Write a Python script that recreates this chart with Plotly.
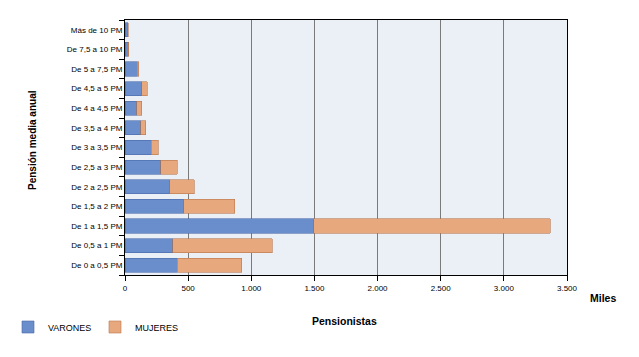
import plotly.graph_objects as go

categorias = ["De 0 a 0,5 PM", "De 0,5 a 1 PM", "De 1 a 1,5 PM", "De 1,5 a 2 PM",
              "De 2 a 2,5 PM", "De 2,5 a 3 PM", "De 3 a 3,5 PM", "De 3,5 a 4 PM",
              "De 4 a 4,5 PM", "De 4,5 a 5 PM", "De 5 a 7,5 PM", "De 7,5 a 10 PM",
              "Más de 10 PM"]
varones = [412, 380, 1495, 464, 356, 285, 206, 124, 92, 132, 95, 25, 22]
mujeres = [514, 784, 1873, 404, 193, 127, 58, 40, 40, 45, 15, 4, 4]
x_ticks = [0, 500, 1000, 1500, 2000, 2500, 3000, 3500]

FONT = "Liberation Sans, Arial, sans-serif"

# page body has an 8px margin; positions below are reference pixels minus that offset
OFF = 8
W, H = 639 - OFF, 357 - OFF
L, R, T, B = 125 - OFF, 567 - OFF, 20 - OFF, 275 - OFF

def px_x(p):
    return (p - OFF - L) / (R - L)

def px_y(p):
    return (B - (p - OFF)) / (B - T)

fig = go.Figure()
fig.add_trace(go.Bar(y=categorias, x=varones, name="VARONES", orientation="h",
                     marker=dict(color="#6a8dcb", line=dict(color="#4a6aa8", width=0.6))))
fig.add_trace(go.Bar(y=categorias, x=mujeres, name="MUJERES", orientation="h",
                     marker=dict(color="#e8a87e", line=dict(color="#b8764c", width=0.6))))

fig.update_layout(
    width=W, height=H,
    barmode="stack", bargap=0.28,
    separators=",.",
    paper_bgcolor="white", plot_bgcolor="#ebf0f7",
    margin=dict(l=L, r=W - R, t=T, b=H - B, autoexpand=False),
    font=dict(family=FONT, size=8, color="#000"),
    showlegend=True,
    legend=dict(orientation="h", xref="container", yref="container",
                x=0.0, y=1 - (327 - OFF) / H, xanchor="left", yanchor="middle",
                traceorder="normal",
                font=dict(size=9), itemwidth=30, entrywidth=42,
                bgcolor="rgba(0,0,0,0)"),
    xaxis=dict(range=[0, 3500], tickvals=x_ticks, tickformat=",d",
               showgrid=True, gridcolor="#7a7a7a", gridwidth=1,
               showline=True, linecolor="#000", linewidth=1, mirror=True,
               ticks="outside", ticklen=5, tickcolor="#000",
               zeroline=False, tickfont=dict(size=8), automargin=False),
    yaxis=dict(categoryorder="array", categoryarray=categorias,
               showline=True, linecolor="#000", linewidth=1, mirror=True,
               ticks="outside", ticklen=5, tickcolor="#000", tickson="boundaries",
               showgrid=False, tickfont=dict(size=8), automargin=False),
    annotations=[
        dict(text="<b>Pensión media anual</b>", xref="paper", yref="paper",
             x=px_x(32), y=px_y(140), showarrow=False, font=dict(size=10),
             textangle=-90, xanchor="center", yanchor="middle"),
        dict(text="<b>Pensionistas</b>", xref="paper", yref="paper",
             x=px_x(344), y=px_y(321), showarrow=False, font=dict(size=10.5),
             xanchor="center", yanchor="middle"),
        dict(text="<b>Miles</b>", xref="paper", yref="paper",
             x=px_x(603), y=px_y(298), showarrow=False, font=dict(size=10.5),
             xanchor="center", yanchor="middle"),
    ],
)

fig.write_html("out.html")
